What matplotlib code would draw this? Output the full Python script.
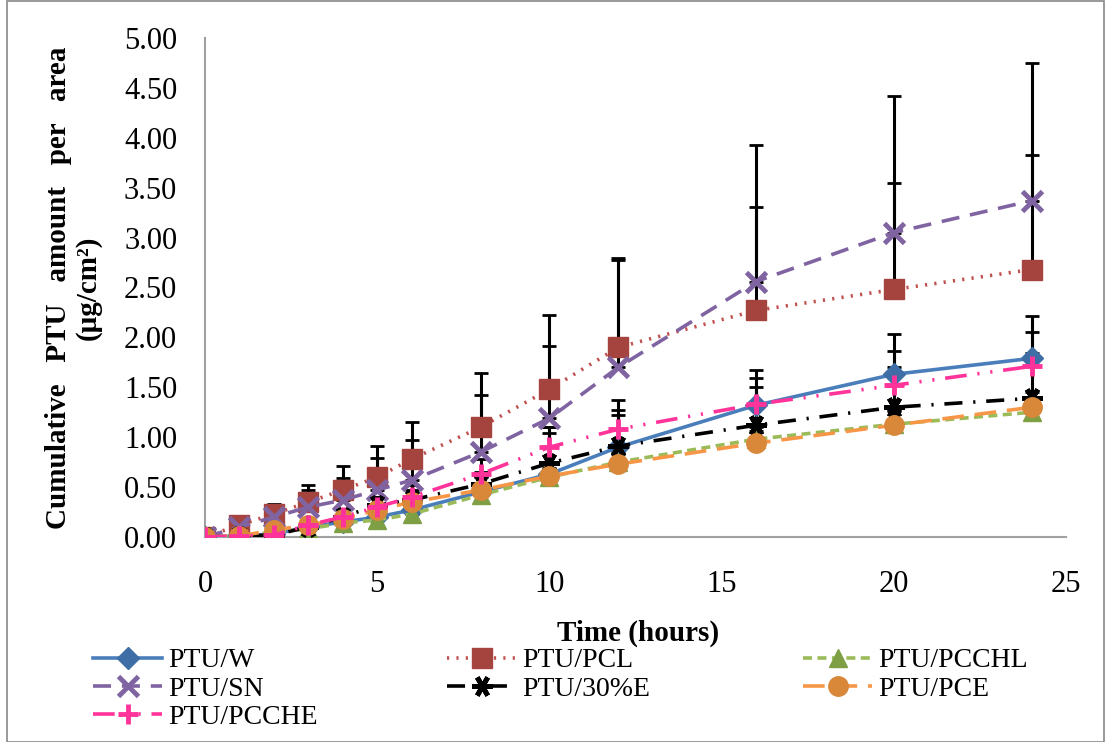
import numpy as np
import matplotlib.pyplot as plt
from matplotlib.patches import Rectangle

plt.rcParams['font.family'] = ['Liberation Serif', 'DejaVu Serif']

# sampling times (hours)
hours = [0, 1, 2, 3, 4, 5, 6, 8, 10, 12, 16, 20, 24]

# cumulative amount per area (ug/cm2) and upper error (SD)
ptu_w = [0, 0.01, 0.03, 0.10, 0.15, 0.20, 0.27, 0.45, 0.63, 0.90, 1.32, 1.63, 1.79]
ptu_w_err = [0, 0, 0.02, 0.05, 0.08, 0.10, 0.12, 0.15, 0.47, 0.37, 0.35, 0.40, 0.42]

ptu_pcl = [0, 0.12, 0.23, 0.35, 0.47, 0.60, 0.78, 1.10, 1.48, 1.90, 2.27, 2.48, 2.68]
ptu_pcl_err = [0, 0.04, 0.10, 0.17, 0.24, 0.31, 0.37, 0.54, 0.74, 0.90, 1.04, 1.07, 1.15]

ptu_pcchl = [0, 0.01, 0.05, 0.08, 0.14, 0.17, 0.23, 0.42, 0.60, 0.75, 0.98, 1.13, 1.25]
ptu_pcchl_err = [0, 0, 0.01, 0.02, 0.03, 0.04, 0.05, 0.06, 0.08, 0.10, 0.12, 0.14, 0.15]

ptu_sn = [0, 0.10, 0.20, 0.30, 0.37, 0.47, 0.57, 0.85, 1.19, 1.70, 2.56, 3.05, 3.37]
ptu_sn_err = [0, 0.03, 0.05, 0.17, 0.22, 0.32, 0.40, 0.57, 0.72, 1.08, 1.37, 1.37, 1.38]

ptu_30e = [0, 0.01, 0.02, 0.10, 0.20, 0.32, 0.37, 0.53, 0.74, 0.91, 1.12, 1.30, 1.39]
ptu_30e_err = [0, 0, 0.02, 0.04, 0.06, 0.08, 0.10, 0.12, 0.30, 0.31, 0.38, 0.40, 0.45]

ptu_pce = [0, 0.01, 0.07, 0.12, 0.18, 0.27, 0.35, 0.47, 0.61, 0.73, 0.94, 1.12, 1.30]
ptu_pce_err = [0, 0, 0.01, 0.02, 0.03, 0.04, 0.05, 0.06, 0.08, 0.10, 0.12, 0.14, 0.15]

ptu_pcche = [0, 0.01, 0.02, 0.12, 0.20, 0.30, 0.40, 0.63, 0.90, 1.08, 1.33, 1.52, 1.71]
ptu_pcche_err = [0, 0, 0.02, 0.05, 0.08, 0.10, 0.12, 0.15, 0.20, 0.29, 0.26, 0.34, 0.34]

# name, values, error, line colour, marker colour, marker, size, line style
series = [
    ('PTU/W', ptu_w, ptu_w_err, '#4a7ebb', '#3f6ea6', 'D', 11, '-'),
    ('PTU/PCL', ptu_pcl, ptu_pcl_err, '#c0504d', '#a5443f', 's', 14, (0, (0.6, 2.0))),
    ('PTU/PCCHL', ptu_pcchl, ptu_pcchl_err, '#9bbb59', '#7f9f45', '^', 13, (0, (2.5, 1.5))),
    ('PTU/SN', ptu_sn, ptu_sn_err, '#8064a2', '#8064a2', 'x', 15, (0, (5, 3))),
    ('PTU/30%E', ptu_30e, ptu_30e_err, 'black', 'black', (6, 2, 90), 15, (0, (5, 3, 0.6, 3))),
    ('PTU/PCE', ptu_pce, ptu_pce_err, '#f79646', '#d9883a', 'o', 14, (0, (6, 3))),
    ('PTU/PCCHE', ptu_pcche, ptu_pcche_err, '#ff3399', '#ff3399', '+', 15, (0, (6, 3, 0.6, 3, 0.6, 3))),
]

W, H = 1105, 742
fig = plt.figure(figsize=(W / 100, H / 100), dpi=100)
ax = fig.add_axes([205 / W, 1 - 537 / H, (1066 - 205) / W, (537 - 38) / H])

for name, y, err, lc, mc, mk, ms, ls in series:
    ax.errorbar(hours, y, yerr=[np.zeros(len(err)), err], fmt='none', ecolor='black',
                elinewidth=2.2, capsize=5, capthick=2, zorder=2)

handles = {}
for name, y, err, lc, mc, mk, ms, ls in series:
    thin = mk in ('x', '+') or isinstance(mk, tuple)
    line, = ax.plot(hours, y, color=lc, linestyle=ls, linewidth=2.6, marker=mk, markersize=ms,
                    markerfacecolor=mc, markeredgecolor=mc, markeredgewidth=3.5 if thin else 1,
                    label=name, zorder=3)
    handles[name] = line

ax.set_xlim(0, 25)
ax.set_ylim(0, 5)
ax.set_xticks(range(0, 26, 5))
yt = np.arange(0, 5.01, 0.5)
ax.set_yticks(yt)
ax.set_yticklabels([f'{v:.2f}' for v in yt])
ax.tick_params(length=0, labelsize=22)
ax.tick_params(axis='y', pad=20)
ax.tick_params(axis='x', pad=24)
for side in ('top', 'right'):
    ax.spines[side].set_visible(False)
for side in ('left', 'bottom'):
    ax.spines[side].set_color('#a0a0a0')
    ax.spines[side].set_linewidth(1.5)

ax.set_xlabel('Time (hours)', fontsize=21, fontweight='bold')
ax.xaxis.set_label_coords((638 - 205) / 861, (537 - 620) / 499)
ax.set_ylabel('Cumulative   PTU   amount   per   area\n(\u03bcg/cm\u00b2)', fontsize=21,
              fontweight='bold', linespacing=1.15)
ax.yaxis.set_label_coords((102 - 205) / 861, 0.5)

# legend laid out in three columns, filled row by row
columns = [['PTU/W', 'PTU/SN', 'PTU/PCCHE'],
           ['PTU/PCL', 'PTU/30%E'],
           ['PTU/PCCHL', 'PTU/PCE']]
col_x = [93, 447, 803]
for names, x0 in zip(columns, col_x):
    fig.legend([handles[n] for n in names], names, loc='upper left',
               bbox_to_anchor=(x0 / W, 1 - 648 / H), frameon=False, fontsize=20,
               handlelength=2.5, handletextpad=0.2, labelspacing=0.1,
               borderpad=0, borderaxespad=0)

fig.patches.append(Rectangle((0.006, 0.0), 0.993, 0.999, transform=fig.transFigure,
                             fill=False, edgecolor='#888888', linewidth=1.2))

fig.savefig('out.png', dpi=100)
